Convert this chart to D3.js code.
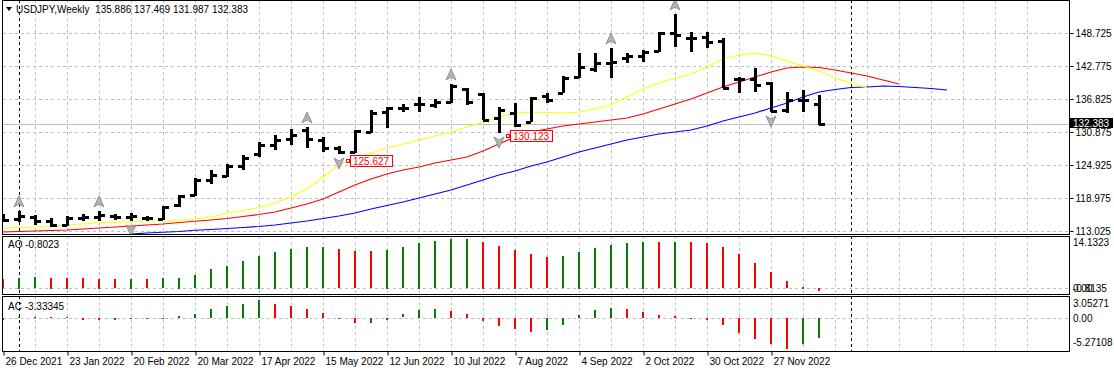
<!DOCTYPE html>
<html>
<head>
<meta charset="utf-8">
<script src="https://cdn.jsdelivr.net/npm/d3@7"></script>
<style>
  body { margin: 0; background: #fff; }
  svg text { font-family: "Liberation Sans", Arial, sans-serif; font-size: 10px; fill: #000; }
</style>
</head>
<body>
<div id="chart"></div>
<script>
// weekly USDJPY bars, week 0 = 26 Dec 2021
var opens  = [115.55,115.19,115.55,114.83,114.11,115.37,115.55,115.73,115.55,115.37,115.19,117.71,119.52,122.22,122.94,124.75,126.91,128.53,129.61,131.24,129.43,127.99,127.27,130.88,134.48,135.20,135.93,135.75,136.29,138.63,137.73,133.40,134.30,132.68,137.37,137.91,140.79,142.23,143.32,144.22,144.58,145.48,148.73,147.83,148.01,147.28,140.43,140.43,139.71,134.84,136.65,135.886];
var highs  = [116.09,116.64,115.91,115.37,115.73,116.09,116.64,116.09,116.27,115.73,117.53,119.52,122.58,124.03,125.11,126.73,129.07,130.34,131.42,131.78,129.97,128.35,131.24,134.84,135.38,135.93,137.19,136.83,139.53,138.81,137.91,135.38,136.11,137.19,137.91,140.97,145.12,145.12,146.02,145.12,145.66,148.91,152.15,148.91,148.91,147.83,140.79,142.41,139.89,138.09,138.45,137.469];
var lows   = [114.65,114.65,114.11,113.75,113.93,114.83,114.83,115.01,114.83,114.83,115.01,117.35,119.34,121.50,122.76,124.03,126.37,127.63,128.53,127.99,127.27,126.91,127.09,130.70,131.60,134.48,134.48,135.20,136.11,135.75,133.04,130.70,131.78,132.68,136.11,137.91,140.61,141.69,140.61,143.32,143.50,145.30,146.20,145.30,146.02,138.81,137.91,138.09,134.48,134.30,134.48,131.987];
var closes = [115.01,115.73,114.83,114.11,115.37,115.55,115.91,115.55,115.73,115.37,117.35,119.34,122.22,123.12,124.75,126.19,128.53,129.43,130.34,129.61,127.99,127.27,131.06,134.30,135.20,135.20,135.93,136.29,139.17,136.29,133.04,134.84,132.14,137.01,136.65,140.61,142.60,143.32,143.50,144.58,145.30,148.73,148.37,147.83,147.10,138.81,140.43,139.35,134.66,136.65,136.65,132.383];

// alligator lines as seen on the chart (shifted forward)
var lips  = [113.57,113.66,113.75,113.93,114.11,114.29,114.50,114.61,114.70,114.79,114.88,114.97,115.19,115.55,116.27,116.72,117.26,118.07,119.16,120.60,122.76,124.93,126.19,127.09,127.99,128.71,129.43,130.16,130.88,131.78,132.68,133.58,134.30,134.48,134.39,134.30,134.48,135.02,135.74,137.19,138.63,139.71,140.61,141.33,142.60,144.04,144.76,145.12,144.58,143.68,142.78,141.88,140.61,139.71,138.81];
var teeth = [112.85,112.94,113.03,113.12,113.21,113.39,113.57,113.75,113.93,114.11,114.29,114.56,114.78,115.01,115.28,115.64,116.00,116.45,117.17,117.89,118.80,120.06,121.32,122.40,123.30,124.02,124.56,125.29,125.83,126.37,127.45,128.71,129.97,130.88,131.42,131.96,132.32,132.68,133.04,133.40,134.12,135.02,135.92,136.82,137.91,138.99,139.89,140.79,141.69,142.41,142.60,142.51,142.05,141.51,140.97,140.25,139.53];
var jawStart = 8;
var jaw   = [112.48,112.66,112.81,112.94,113.15,113.30,113.48,113.66,113.84,114.11,114.47,114.83,115.28,115.73,116.27,116.99,117.62,118.25,118.98,119.70,120.42,121.32,122.22,123.12,123.84,124.75,125.47,126.37,127.27,127.99,128.71,129.43,129.97,130.51,130.88,131.24,131.96,132.86,133.58,134.30,135.20,136.10,137.19,138.09,138.54,138.90,138.99,139.17,139.08,138.90,138.72,138.45];

var aoBefore = 2.9;
var ao = [2.66,3.05,3.08,3.04,3.02,2.86,2.76,2.66,2.76,2.72,2.86,3.05,3.81,5.43,6.39,7.92,9.35,10.50,11.26,11.83,11.86,11.26,10.69,10.65,11.07,11.83,13.07,13.55,14.10,14.1323,13.36,12.21,11.07,9.83,8.97,9.25,10.50,11.55,12.41,12.98,13.36,13.30,13.34,13.30,13.07,11.83,9.83,7.25,4.67,2.09,0.47,-0.8023];
var acBefore = -0.6;
var ac = [-0.40,0.10,0.20,0.15,0.10,-0.35,-0.40,-0.30,-0.15,-0.10,0.05,0.28,0.69,1.51,1.97,2.43,3.05271,2.43,1.97,1.51,0.89,-0.08,-0.85,-0.78,-0.29,0.59,1.36,1.51,1.20,0.74,-0.49,-1.42,-1.88,-2.34,-2.03,-1.11,0.43,1.36,1.66,1.51,1.05,0.43,0.28,0.04,-0.30,-1.11,-2.50,-3.57,-4.50,-5.27108,-4.35,-3.33345];

var fractalUp = [1, 6, 19, 28, 38, 42];
var fractalDown = [8, 21, 31, 48];
var markWeeks = [21, 31];
var markPrices = [125.627, 130.123];

var priceTicks = [113.025, 118.975, 124.925, 130.875, 136.825, 142.775, 148.725];
var dateLabels = ['26 Dec 2021','23 Jan 2022','20 Feb 2022','20 Mar 2022','17 Apr 2022','15 May 2022','12 Jun 2022','10 Jul 2022','7 Aug 2022','4 Sep 2022','2 Oct 2022','30 Oct 2022','27 Nov 2022'];
var separators = [1, 53];

var width = 1114, height = 372;
var left = 3, right = 1069;

var svg = d3.select('#chart').append('svg')
  .attr('width', width)
  .attr('height', height)
  .style('display', 'block');

var x = d3.scaleLinear().domain([0, 51]).range([3, 819]);
var y = d3.scaleLinear().domain([113.025, 148.725]).range([231, 33]);
var yAo = d3.scaleLinear().domain(d3.extent(ao)).range([291, 239]);
var yAc = d3.scaleLinear().domain(d3.extent(ac)).range([349, 300]);

var panels = [{top: 0, bottom: 234}, {top: 236, bottom: 294}, {top: 296, bottom: 351}];
var defs = svg.append('defs');
panels.forEach(function(p, i) {
  defs.append('clipPath').attr('id', 'clip' + i)
    .append('rect').attr('x', left).attr('y', p.top).attr('width', right - left).attr('height', p.bottom - p.top);
});

var gridIdx = d3.range(2, 66, 2);

// vertical grid + separators in every panel
panels.forEach(function(p, i) {
  var g = svg.append('g').attr('clip-path', 'url(#clip' + i + ')');
  g.selectAll('.vg').data(gridIdx).enter().append('line')
    .attr('x1', function(d) { return x(d) + 0.5; })
    .attr('x2', function(d) { return x(d) + 0.5; })
    .attr('y1', p.top).attr('y2', p.bottom)
    .attr('stroke', '#c0c0c0').attr('stroke-dasharray', '3,3');
  g.selectAll('.sep').data(separators).enter().append('line')
    .attr('x1', function(d) { return x(d) + 0.5; })
    .attr('x2', function(d) { return x(d) + 0.5; })
    .attr('y1', p.top).attr('y2', p.bottom)
    .attr('stroke', '#000').attr('stroke-dasharray', '3,3');
});

// horizontal grid
svg.append('g').selectAll('line').data(priceTicks).enter().append('line')
  .attr('x1', left).attr('x2', right)
  .attr('y1', function(d) { return Math.round(y(d)) + 0.5; })
  .attr('y2', function(d) { return Math.round(y(d)) + 0.5; })
  .attr('stroke', '#c0c0c0').attr('stroke-dasharray', '3,3');
[yAo, yAc].forEach(function(s) {
  svg.append('line')
    .attr('x1', left).attr('x2', right)
    .attr('y1', Math.round(s(0)) + 0.5).attr('y2', Math.round(s(0)) + 0.5)
    .attr('stroke', '#c0c0c0').attr('stroke-dasharray', '3,3');
});

var main = svg.append('g').attr('clip-path', 'url(#clip0)');

// bid line
var last = closes[closes.length - 1];
main.append('line')
  .attr('x1', left).attr('x2', right)
  .attr('y1', Math.round(y(last)) + 0.5).attr('y2', Math.round(y(last)) + 0.5)
  .attr('stroke', '#c0c0c0');

// alligator
function lineOf(vals, start, color) {
  var l = d3.line()
    .x(function(d, i) { return x(i + start); })
    .y(function(d) { return y(d); });
  main.append('path').datum(vals)
    .attr('d', l).attr('fill', 'none')
    .attr('stroke', color).attr('stroke-width', 1.1);
}
lineOf(jaw, jawStart, '#0000ff');
lineOf(teeth, 0, '#ff0000');
lineOf(lips, 0, '#ffff00');

// OHLC bars
var bars = main.selectAll('.bar').data(d3.range(opens.length)).enter().append('g')
  .attr('shape-rendering', 'crispEdges');
bars.append('rect')
  .attr('x', function(i) { return x(i) - 1; })
  .attr('y', function(i) { return Math.round(y(highs[i])); })
  .attr('width', 3)
  .attr('height', function(i) { return Math.max(2, Math.round(y(lows[i]) - y(highs[i]))); })
  .attr('fill', '#000');
bars.append('rect')
  .attr('x', function(i) { return x(i) - 5; })
  .attr('y', function(i) { return Math.round(y(opens[i])) - 1; })
  .attr('width', 5).attr('height', 3).attr('fill', '#000');
bars.append('rect')
  .attr('x', function(i) { return x(i); })
  .attr('y', function(i) { return Math.round(y(closes[i])) - 1; })
  .attr('width', 6).attr('height', 3).attr('fill', '#000');

// fractals
function arrow(g, up) {
  var s = up ? 1 : -1;
  g.append('path')
    .attr('d', 'M0,' + (-6 * s) + 'L5,' + (5 * s) + 'L0,' + (2 * s) + 'L-5,' + (5 * s) + 'Z')
    .attr('fill', '#b4b4b4').attr('stroke', '#808080').attr('stroke-width', 0.8);
}
fractalUp.forEach(function(i) {
  var g = main.append('g').attr('transform', 'translate(' + x(i) + ',' + (y(highs[i]) - 9) + ')');
  arrow(g, true);
});
fractalDown.forEach(function(i) {
  var g = main.append('g').attr('transform', 'translate(' + x(i) + ',' + (y(lows[i]) + 9) + ')');
  arrow(g, false);
});

// price marks
markWeeks.forEach(function(w, j) {
  var yy = Math.round(y(markPrices[j]));
  var xx = x(w) + 11;
  main.append('rect').attr('x', xx - 3.5).attr('y', yy - 1.5).attr('width', 3).attr('height', 3)
    .attr('fill', '#fff').attr('stroke', '#ff0000');
  main.append('rect').attr('x', xx + 0.5).attr('y', yy - 5.5).attr('width', 42).attr('height', 11)
    .attr('fill', '#fff').attr('stroke', '#ff0000');
  main.append('text').attr('x', xx + 3).attr('y', yy + 4)
    .style('fill', '#ff0000').text(markPrices[j].toFixed(3));
});

// AO and AC histograms
function hist(vals, before, s, clip) {
  var g = svg.append('g').attr('clip-path', 'url(#' + clip + ')').attr('shape-rendering', 'crispEdges');
  g.selectAll('rect').data(vals).enter().append('rect')
    .attr('x', function(d, i) { return x(i) - 1; })
    .attr('width', 2)
    .attr('y', function(d) { return Math.round(Math.min(s(d), s(0))); })
    .attr('height', function(d) { return Math.max(1, Math.round(Math.abs(s(d) - s(0)))); })
    .attr('fill', function(d, i) {
      var prev = i === 0 ? before : vals[i - 1];
      return d >= prev ? '#008000' : '#ff0000';
    });
}
hist(ao, aoBefore, yAo, 'clip1');
hist(ac, acBefore, yAc, 'clip2');

// frames
panels.forEach(function(p) {
  svg.append('rect')
    .attr('x', left - 0.5).attr('y', p.top + 0.5)
    .attr('width', right - left + 1).attr('height', p.bottom - p.top)
    .attr('fill', 'none').attr('stroke', '#000');
});

// price axis
var ax = svg.append('g').attr('transform', 'translate(' + (right + 0.5) + ',0)')
  .call(d3.axisRight(y).tickValues(priceTicks).tickFormat(d3.format('.3f')).tickSize(4).tickPadding(2));
ax.select('.domain').remove();
ax.selectAll('line').attr('stroke', '#000');
ax.selectAll('text').style('font-family', '"Liberation Sans", Arial, sans-serif').style('font-size', '10px');

// last price box
var ly = Math.round(y(last));
svg.append('rect').attr('x', right + 1).attr('y', ly - 6).attr('width', 43).attr('height', 10).attr('fill', '#000');
svg.append('text').attr('x', right + 4).attr('y', ly + 3).style('fill', '#fff').text(last.toFixed(3));

// indicator scales
function sideLabel(txt, yy) {
  svg.append('text').attr('x', right + 4).attr('y', yy).text(txt);
}
sideLabel(d3.max(ao).toFixed(4), 246);
sideLabel('0.00', yAo(0) + 4);
sideLabel('-0.8135', yAo(0) + 4);
sideLabel(d3.max(ac).toFixed(5), 307);
sideLabel('0.00', yAc(0) + 4);
sideLabel(d3.min(ac).toFixed(5), 346);

// time axis
var tx = svg.append('g').attr('transform', 'translate(0,' + 351.5 + ')')
  .call(d3.axisBottom(x).tickValues(dateLabels.map(function(d, i) { return i * 4; }))
    .tickFormat(function(d) { return dateLabels[d / 4]; }).tickSize(4).tickPadding(2));
tx.select('.domain').remove();
tx.selectAll('line').attr('stroke', '#000').attr('transform', 'translate(0.5,0)');
tx.selectAll('text').attr('text-anchor', 'start').attr('x', 2)
  .style('font-family', '"Liberation Sans", Arial, sans-serif').style('font-size', '10px');

// headers
svg.append('path').attr('d', 'M6,7L12,7L9,11Z').attr('fill', '#000');
svg.append('text').attr('x', 16).attr('y', 13).text('USDJPY,Weekly  135.886 137.469 131.987 132.383').attr('xml:space', 'preserve');
svg.append('text').attr('x', 8).attr('y', 248).text('AO -0.8023');
svg.append('text').attr('x', 8).attr('y', 310).text('AC -3.33345');
</script>
</body>
</html>
